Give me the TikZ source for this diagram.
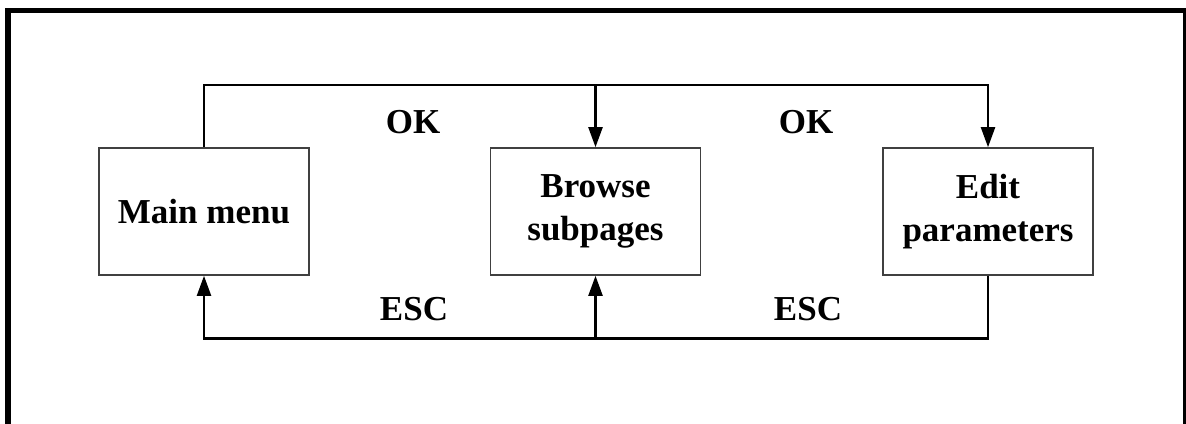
\documentclass[tikz,border=0pt]{standalone}
\usepackage{fontspec}
\setmainfont{Liberation Serif}
\usetikzlibrary{arrows.meta}
\begin{document}
\begin{tikzpicture}[x=0.5pt,y=-0.5pt,
  box/.style={draw=black!75,line width=0.8pt,minimum width=105pt,minimum height=63.5pt,inner sep=0pt,
    align=center,font=\fontsize{17.5pt}{21.5pt}\selectfont\bfseries},
  lbl/.style={inner sep=0pt,font=\fontsize{17.5pt}{21.5pt}\selectfont\bfseries},
  conn/.style={line width=1.1pt,black},
  arr/.style={conn,-{Triangle[length=10pt,width=7pt]}}]
\useasboundingbox (0,0) rectangle (1186,423);
\clip (0,0) rectangle (1186,423);
\fill[white] (0,0) rectangle (1186,423);
\draw[line width=2.8pt] (8,10.5) rectangle (1186,440);
\node[box] (main) at (204,211.5) {Main menu};
\node[box] (browse) at (595.5,211.5) {Browse\\subpages};
\node[box] (edit) at (988,211.5) {Edit\\parameters};
\coordinate (tl) at (204,85);
\coordinate (tr) at (988,85);
\coordinate (tm) at (595.5,85);
\coordinate (bl) at (204,338.5);
\coordinate (br) at (988,338.5);
\coordinate (bm) at (595.5,338.5);
\draw[arr] (main.north) -- (tl) -- (tr) -- (edit.north);
\draw[arr] (tm) -- (browse.north);
\draw[arr] (edit.south) -- (br) -- (bl) -- (main.south);
\draw[arr] (bm) -- (browse.south);
\node[lbl] (ok1) at (413,122) {OK};
\node[lbl] (ok2) at (806,122) {OK};
\node[lbl] (esc1) at (414,309) {ESC};
\node[lbl] (esc2) at (808,309) {ESC};
\end{tikzpicture}
\end{document}
